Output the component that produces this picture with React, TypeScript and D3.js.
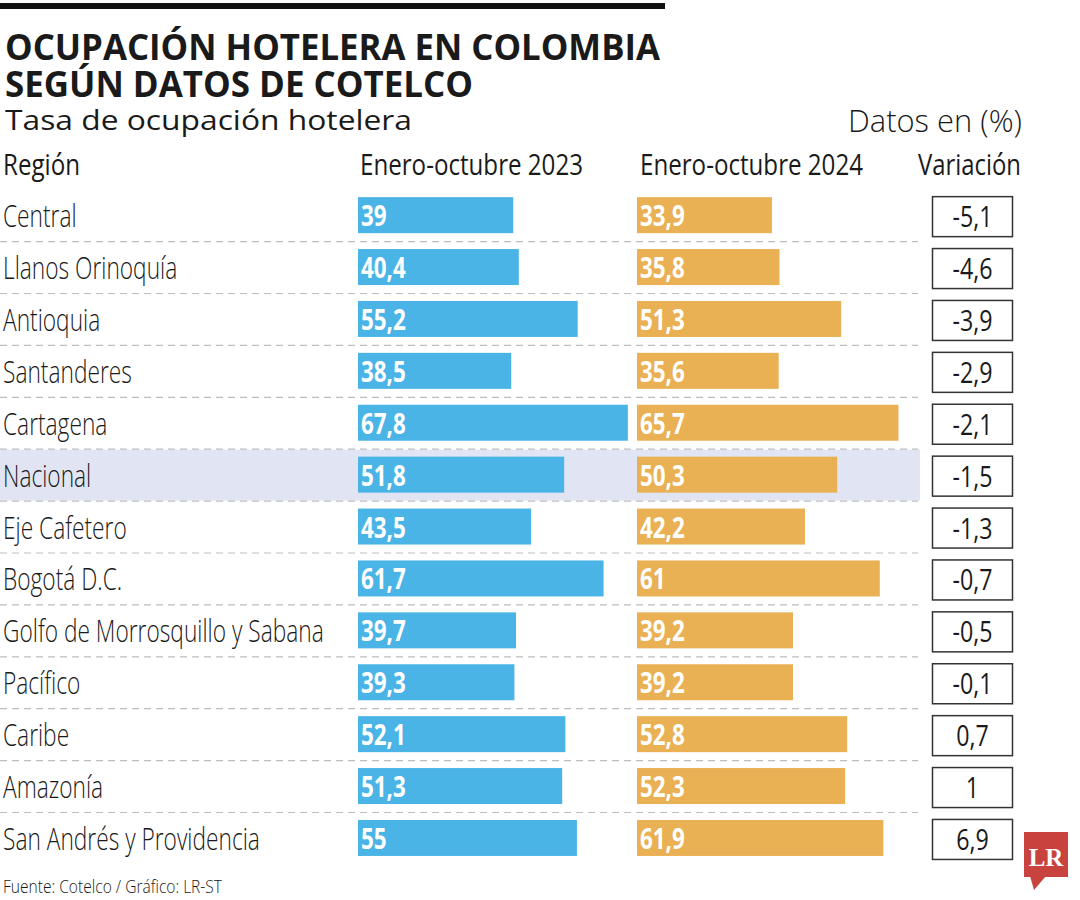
import React from "react";
import * as d3 from "d3";

const regions = [
  "Central",
  "Llanos Orinoquía",
  "Antioquia",
  "Santanderes",
  "Cartagena",
  "Nacional",
  "Eje Cafetero",
  "Bogotá D.C.",
  "Golfo de Morrosquillo y Sabana",
  "Pacífico",
  "Caribe",
  "Amazonía",
  "San Andrés y Providencia",
];
const values2023 = [39, 40.4, 55.2, 38.5, 67.8, 51.8, 43.5, 61.7, 39.7, 39.3, 52.1, 51.3, 55];
const values2024 = [33.9, 35.8, 51.3, 35.6, 65.7, 50.3, 42.2, 61, 39.2, 39.2, 52.8, 52.3, 61.9];
const variation = [-5.1, -4.6, -3.9, -2.9, -2.1, -1.5, -1.3, -0.7, -0.5, -0.1, 0.7, 1, 6.9];
const columnHeaders = ["Región", "Enero-octubre 2023", "Enero-octubre 2024", "Variación"];
const highlight = "Nacional";

const W = 1080;
const H = 900;
const FONT = "'Open Sans', sans-serif";
const BLUE = "#4bb4e6";
const ORANGE = "#e9b054";
const TEXT = "#1a1a1a";

const fmt = (v: number) => String(v).replace(".", ",");

function SText(props: {
  x: number;
  y: number;
  sx: number;
  size: number;
  weight?: number;
  fill?: string;
  anchor?: "start" | "middle" | "end";
  children: React.ReactNode;
}) {
  const { x, y, sx, size, weight = 400, fill = TEXT, anchor = "start", children } = props;
  return (
    <text
      transform={`translate(${x},${y}) scale(${sx},1)`}
      fontFamily={FONT}
      fontSize={size}
      fontWeight={weight}
      fill={fill}
      textAnchor={anchor}
    >
      {children}
    </text>
  );
}

export default function App() {
  const y = d3
    .scaleBand<string>()
    .domain(regions)
    .range([189.2, 189.2 + 51.9 * regions.length])
    .paddingInner(0)
    .paddingOuter(0);
  const x = d3.scaleLinear().domain([0, 100]).range([0, 398]);
  const x2023 = 358;
  const x2024 = 637;
  const barH = 36;
  const bw = y.bandwidth();

  return (
    <svg width={W} height={H} style={{ display: "block", position: "absolute", left: 0, top: 0 }}>
      <rect width={W} height={H} fill="#fff" />
      <rect x={0} y={3} width={665} height={6} fill="#111" />

      <text x={5} y={60} fontFamily={FONT} fontWeight={700} fontSize={36} fill={TEXT} textLength={655} lengthAdjust="spacingAndGlyphs">
        OCUPACIÓN HOTELERA EN COLOMBIA
      </text>
      <text x={5} y={97} fontFamily={FONT} fontWeight={700} fontSize={36} fill={TEXT} textLength={468} lengthAdjust="spacingAndGlyphs">
        SEGÚN DATOS DE COTELCO
      </text>
      <text x={5} y={130} fontFamily={FONT} fontWeight={400} fontSize={28} fill={TEXT} textLength={407} lengthAdjust="spacingAndGlyphs">
        Tasa de ocupación hotelera
      </text>
      <text x={848} y={132} fontFamily={FONT} fontWeight={300} fontSize={31} fill={TEXT} textLength={174} lengthAdjust="spacingAndGlyphs">
        Datos en (%)
      </text>

      {/* column headers */}
      <text x={3} y={175} fontFamily={FONT} fontSize={30} fill={TEXT} textLength={77} lengthAdjust="spacingAndGlyphs">
        {columnHeaders[0]}
      </text>
      <text x={360} y={175} fontFamily={FONT} fontSize={30} fill={TEXT} textLength={223} lengthAdjust="spacingAndGlyphs">
        {columnHeaders[1]}
      </text>
      <text x={640} y={175} fontFamily={FONT} fontSize={30} fill={TEXT} textLength={223} lengthAdjust="spacingAndGlyphs">
        {columnHeaders[2]}
      </text>
      <text x={918} y={175} fontFamily={FONT} fontSize={30} fill={TEXT} textLength={103} lengthAdjust="spacingAndGlyphs">
        {columnHeaders[3]}
      </text>

      {/* highlight band */}
      <rect x={0} y={(y(highlight) as number) + 1} width={920} height={bw - 1} fill="#e1e5f3" />

      {/* dashed separators */}
      {regions.slice(1).map((r) => (
        <line
          key={"d" + r}
          x1={0}
          x2={918}
          y1={(y(r) as number) + 0.5}
          y2={(y(r) as number) + 0.5}
          stroke="#bdbdbd"
          strokeWidth={1.2}
          strokeDasharray="7,5"
        />
      ))}

      {regions.map((r, i) => {
        const top = y(r) as number;
        const cy = top + bw / 2;
        const by = cy - barH / 2;
        return (
          <g key={r}>
            <SText x={3} y={cy + 12} sx={0.71} size={32} weight={300}>
              {r}
            </SText>
            <rect x={x2023} y={by} width={x(values2023[i])} height={barH} fill={BLUE} />
            <SText x={x2023 + 3} y={cy + 11} sx={0.8} size={28} weight={700} fill="#fff">
              {fmt(values2023[i])}
            </SText>
            <rect x={x2024} y={by} width={x(values2024[i])} height={barH} fill={ORANGE} />
            <SText x={x2024 + 3} y={cy + 11} sx={0.8} size={28} weight={700} fill="#fff">
              {fmt(values2024[i])}
            </SText>
            <rect x={932.5} y={by - 0.5} width={80} height={40} fill="#fff" stroke="#333" strokeWidth={1.5} />
            <SText x={972.5} y={cy + 12} sx={0.8} size={29} weight={400} anchor="middle">
              {fmt(variation[i])}
            </SText>
          </g>
        );
      })}

      <text x={3} y={893} fontFamily={FONT} fontSize={18} fontWeight={300} fill={TEXT} textLength={219} lengthAdjust="spacingAndGlyphs">
        Fuente: Cotelco / Gráfico: LR-ST
      </text>

      {/* LR logo */}
      <g>
        <rect x={1024} y={832} width={44} height={45} fill="#c8423e" />
        <polygon points="1030,876 1046,876 1034,890" fill="#c8423e" />
        <text x={1046} y={866} textAnchor="middle" fontFamily="'Liberation Serif', 'DejaVu Serif', serif" fontWeight={700} fontSize={25} fill="#fff">
          LR
        </text>
      </g>
    </svg>
  );
}
